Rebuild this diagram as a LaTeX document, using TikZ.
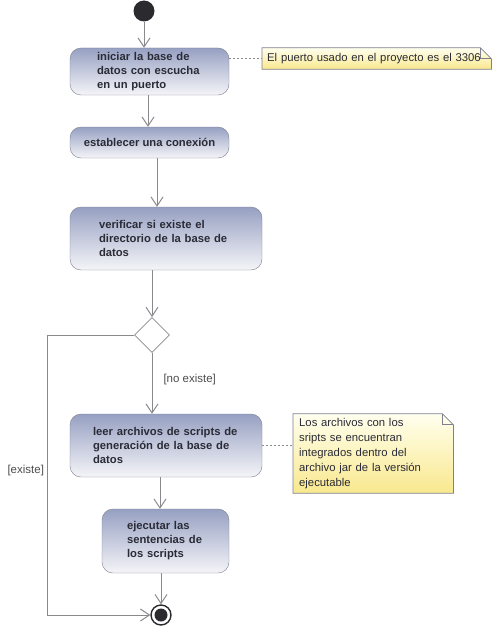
\documentclass[tikz,border=0pt]{standalone}
\usepackage{fontspec}
\setmainfont{Liberation Sans}
\usetikzlibrary{arrows.meta,calc,positioning,shapes.geometric,backgrounds}
\definecolor{linea}{HTML}{8A8A8E}
\definecolor{borde}{HTML}{7E8090}
\definecolor{tinta}{HTML}{2A2B36}
\definecolor{azul}{HTML}{96A0C2}
\definecolor{claro}{HTML}{F5F5F8}
\definecolor{notaa}{HTML}{FFFFEE}
\definecolor{notab}{HTML}{F9E88E}
\definecolor{punto}{HTML}{2A2A2F}
\begin{document}
\begin{tikzpicture}[x=1pt,y=-1pt,>={Straight Barb[length=9pt,width=12pt]},
  every node/.style={font=\fontsize{11}{14}\selectfont},
  actividad/.style={draw=borde,rounded corners=11pt,top color=azul,bottom color=claro,
    text=tinta,font=\fontsize{11.25}{14}\selectfont\bfseries,align=left,inner sep=0pt},
  nota/.style={anchor=west,inner xsep=5pt,inner ysep=0pt,align=left,text=tinta,
    font=\fontsize{11.3}{15}\selectfont},
  flujo/.style={->,draw=linea,line width=1pt},
  enlace/.style={draw=linea,dashed,dash pattern=on 2pt off 2pt,line width=0.8pt},
  etiqueta/.style={text=black!70,font=\fontsize{11.5}{14}\selectfont}]
\useasboundingbox (0,0) rectangle (493,626);
\node[circle,fill=punto,minimum size=21pt,inner sep=0pt] (ini) at (144,11) {};
\node[actividad,minimum width=159pt,minimum height=47pt,text width=105pt] (b1) at (149.5,71.5)
  {iniciar la base de\\datos con escucha\\en un puerto};
\node[actividad,minimum width=159pt,minimum height=31pt] (b2) at (149.5,142.5)
  {establecer una conexión};
\node[actividad,minimum width=192pt,minimum height=63pt,text width=134pt] (b3) at (166,238.5)
  {verificar si existe el\\directorio de la base de\\datos};
\node[diamond,draw=linea,fill=white,line width=0.8pt,minimum size=35pt,inner sep=0pt] (dec) at (152,335) {};
\node[actividad,minimum width=192pt,minimum height=63pt,text width=146pt] (b4) at (166,445.5)
  {leer archivos de scripts de\\generación de la base de\\datos};
\node[actividad,minimum width=127pt,minimum height=64pt,text width=77pt] (b5) at (165.5,541)
  {ejecutar las\\sentencias de\\los scripts};
\node[circle,draw=punto,fill=white,line width=1.4pt,minimum size=20pt,inner sep=0pt] (fin) at (161,615) {};
\fill[punto] (fin) circle (6.5pt);
% notas
\node[nota,minimum height=21pt,text width=219pt] (n1) at (262,58.5)
  {El puerto usado en el proyecto es el 3306};
\node[nota,inner xsep=6pt,minimum height=79pt,text width=148pt] (n2) at (293,453.5)
  {Los archivos con los\\sripts se encuentran\\integrados dentro del\\archivo jar de la versión\\ejecutable};
\begin{scope}[on background layer]
\foreach \n in {n1,n2}{
\shade[top color=notaa,bottom color=notab,draw=borde,line width=0.8pt]
  (\n.south west) -- (\n.north west) -- ([xshift=-11pt]\n.north east)
  -- ([yshift=-11pt]\n.north east) -- (\n.south east) -- cycle;
\draw[borde,line width=0.8pt] ([xshift=-11pt]\n.north east) |- ([yshift=-11pt]\n.north east);}
\end{scope}
\draw[enlace] (b1.east |- n1) -- (n1.west);
\draw[enlace] (b4.east) -- (n2.west |- b4.east);
% flujos
\draw[flujo] (ini) -- (ini |- b1.north);
\draw[flujo] ([xshift=-1.5pt]b1.south) -- ([xshift=-1.5pt]b2.north);
\draw[flujo] ([xshift=7.5pt]b2.south) -- ([xshift=7.5pt]b2.south |- b3.north);
\draw[flujo] (dec |- b3.south) -- (dec.north);
\draw[flujo] (dec.south) -- (dec |- b4.north);
\draw[flujo] ([xshift=-6pt]b4.south) -- ([xshift=-6pt]b4.south |- b5.north);
\draw[flujo] (fin |- b5.south) -- (fin.north);
\coordinate (esq) at (47,335);
\draw[flujo] (dec.west) -- (esq) |- (fin.west);
\node[etiqueta,anchor=west] (no) at (160,380) {[no existe]};
\node[etiqueta,anchor=west] (si) at (4,471) {[existe]};
\end{tikzpicture}
\end{document}
